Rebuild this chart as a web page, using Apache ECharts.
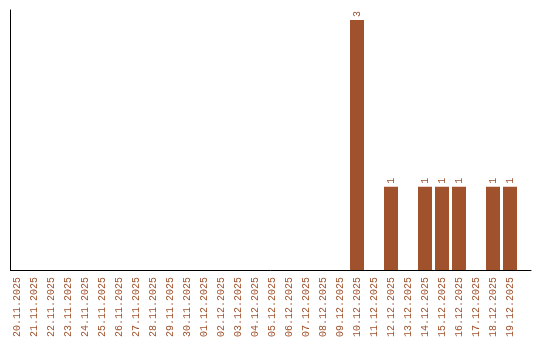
<!DOCTYPE html>
<html><head><meta charset="utf-8">
<script src="https://cdn.jsdelivr.net/npm/echarts@6/dist/echarts.min.js"></script>
<style>html,body{margin:0;padding:0;background:#fff}#c{width:540px;height:340px}</style>
</head><body><div id="c"></div>
<script>
const categories = ["20.11.2025","21.11.2025","22.11.2025","23.11.2025","24.11.2025","25.11.2025","26.11.2025","27.11.2025","28.11.2025","29.11.2025","30.11.2025","01.12.2025","02.12.2025","03.12.2025","04.12.2025","05.12.2025","06.12.2025","07.12.2025","08.12.2025","09.12.2025","10.12.2025","11.12.2025","12.12.2025","13.12.2025","14.12.2025","15.12.2025","16.12.2025","17.12.2025","18.12.2025","19.12.2025"];
const values = [0,0,0,0,0,0,0,0,0,0,0,0,0,0,0,0,0,0,0,0,3,0,1,0,1,1,1,0,1,1];
const color = '#A0522D';
const chart = echarts.init(document.getElementById('c'));
chart.setOption({
  animation: false,
  grid: [
    {left: 8.5, top: 10, width: 510, height: 260},
    {left: 10.5, top: 10, width: 520.5, height: 260}
  ],
  xAxis: [
    {type: 'category', data: categories, gridIndex: 0,
     axisLine: {show: false}, axisTick: {show: false},
     axisLabel: {rotate: 90, interval: 0, color: color, fontFamily: 'Liberation Mono', fontSize: 10, margin: 7}},
    {type: 'value', gridIndex: 1, min: 0, max: 1, axisLine: {show: true, lineStyle: {color: '#000', width: 1}},
     axisTick: {show: false}, axisLabel: {show: false}, splitLine: {show: false}}
  ],
  yAxis: [
    {type: 'value', gridIndex: 0, min: 0, max: 3.12, axisLine: {show: false}, axisTick: {show: false},
     axisLabel: {show: false}, splitLine: {show: false}},
    {type: 'value', gridIndex: 1, min: 0, max: 1, axisLine: {show: true, lineStyle: {color: '#000', width: 1}},
     axisTick: {show: false}, axisLabel: {show: false}, splitLine: {show: false}}
  ],
  series: [{
    type: 'bar', data: values, barWidth: 14, xAxisIndex: 0, yAxisIndex: 0,
    itemStyle: {color: color},
    label: {show: true, position: 'top', rotate: 90, align: 'left', verticalAlign: 'middle', distance: 3,
      color: color, fontFamily: 'Liberation Mono', fontSize: 10,
      formatter: p => p.value ? String(p.value) : ''}
  }]
});
</script></body></html>
